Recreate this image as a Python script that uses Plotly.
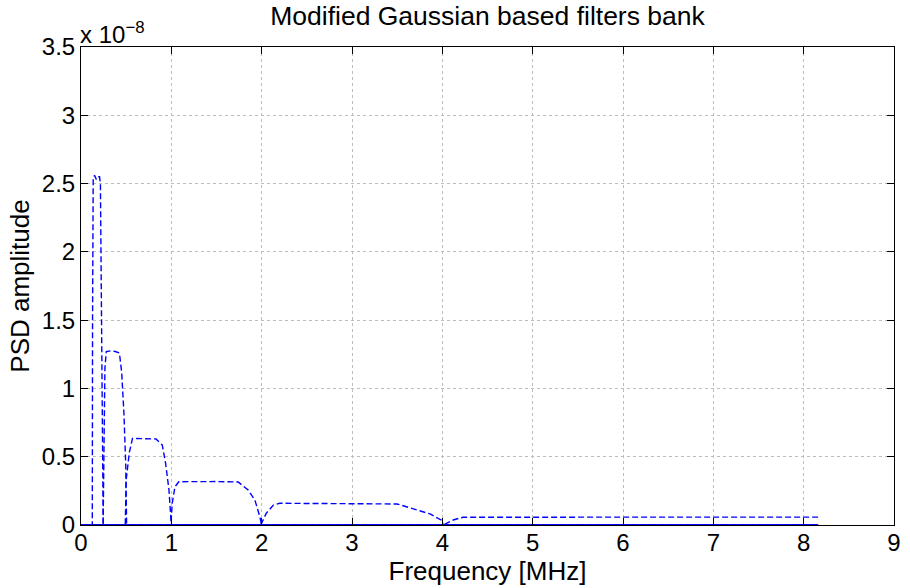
import plotly.graph_objects as go

# Frequencies in MHz, amplitudes in units of 1e-8
f_end = 8.16

freq_1 = [0.0, 0.125, 0.128, 0.135, 0.15, 0.17, 0.19, 0.205, 0.215, 0.225, 0.235, 0.246, f_end]
amp_1 = [0.0, 0.0, 1.5, 2.54, 2.56, 2.53, 2.55, 2.55, 2.5, 1.8, 1.2, 0.0, 0.0]

freq_2 = [0.0, 0.245, 0.255, 0.265, 0.28, 0.33, 0.38, 0.425, 0.45, 0.475, 0.495, 0.505, f_end]
amp_2 = [0.0, 0.0, 0.6, 1.15, 1.27, 1.275, 1.27, 1.26, 1.12, 0.82, 0.45, 0.0, 0.0]

freq_3 = [0.0, 0.49, 0.5, 0.535, 0.57, 0.65, 0.75, 0.83, 0.9, 0.937, 0.974, 1.0, f_end]
amp_3 = [0.0, 0.0, 0.33, 0.53, 0.634, 0.634, 0.634, 0.63, 0.585, 0.45, 0.256, 0.0, 0.0]

freq_4 = [0.0, 0.995, 1.01, 1.04, 1.083, 1.3, 1.5, 1.74, 1.85, 1.925, 1.98, 2.0, f_end]
amp_4 = [0.0, 0.0, 0.16, 0.28, 0.317, 0.318, 0.318, 0.315, 0.256, 0.183, 0.06, 0.0, 0.0]

freq_5 = [0.0, 1.99, 2.05, 2.13, 2.2, 2.8, 3.3, 3.5, 3.65, 3.87, 3.99, 4.01, f_end]
amp_5 = [0.0, 0.0, 0.085, 0.146, 0.159, 0.159, 0.159, 0.154, 0.124, 0.08, 0.035, 0.0, 0.0]

freq_6 = [0.0, 4.01, 4.12, 4.23, 5.0, 6.0, 7.0, 8.0, f_end]
amp_6 = [0.0, 0.0, 0.037, 0.057, 0.058, 0.058, 0.058, 0.058, 0.058]

filters = [(freq_1, amp_1), (freq_2, amp_2), (freq_3, amp_3),
           (freq_4, amp_4), (freq_5, amp_5), (freq_6, amp_6)]

x_ticks = [0, 1, 2, 3, 4, 5, 6, 7, 8, 9]
y_ticks = [0, 0.5, 1, 1.5, 2, 2.5, 3, 3.5]
y_tick_text = ["0", "0.5", "1", "1.5", "2", "2.5", "3", "3.5"]

FONT = "Liberation Sans, Arial, Helvetica, sans-serif"
TICK_SIZE = 24
LABEL_SIZE = 26

fig = go.Figure()
for i, (fx, fy) in enumerate(filters):
    if i % 2 == 1:
        fx, fy = fx[::-1], fy[::-1]
    fig.add_trace(go.Scatter(
        x=fx, y=fy, mode="lines",
        line=dict(color="#0000ff", width=1.4, dash="6px,3px"),
        showlegend=False, hoverinfo="skip"))

axis_common = dict(
    showline=True, linecolor="black", linewidth=1, mirror="ticks",
    ticks="inside", ticklen=7, tickcolor="black", tickwidth=1,
    showgrid=True, gridcolor="#bdbdbd", griddash="dot", gridwidth=1,
    zeroline=False, tickfont=dict(size=TICK_SIZE, color="black", family=FONT),
)

fig.update_xaxes(range=[0, 9], tickvals=x_ticks, ticktext=[str(t) for t in x_ticks],
                 ticklabelstandoff=-4,
                 title=dict(text="Frequency [MHz]", font=dict(size=LABEL_SIZE, color="black", family=FONT), standoff=0),
                 **axis_common)
fig.update_yaxes(range=[0, 3.5], tickvals=y_ticks, ticktext=y_tick_text,
                 title=dict(text="PSD amplitude", font=dict(size=LABEL_SIZE, color="black", family=FONT), standoff=4),
                 **axis_common)

fig.add_annotation(xref="paper", yref="paper", x=0, y=1, xanchor="left", yanchor="bottom",
                   text="x 10<sup>−8</sup>", showarrow=False,
                   font=dict(size=TICK_SIZE, color="black", family=FONT), xshift=-3, yshift=-3)

fig.update_layout(
    width=910, height=588,
    margin=dict(l=81, r=9, t=47, b=63),
    paper_bgcolor="white", plot_bgcolor="white",
    title=dict(text="Modified Gaussian based filters bank", xref="paper", x=0.5, xanchor="center",
               y=1 - 16 / 588, yanchor="middle",
               font=dict(size=26.5, color="black", family=FONT)),
)

fig.write_html("out.html", config={"displayModeBar": False},
               post_script="document.body.style.margin='0';")
